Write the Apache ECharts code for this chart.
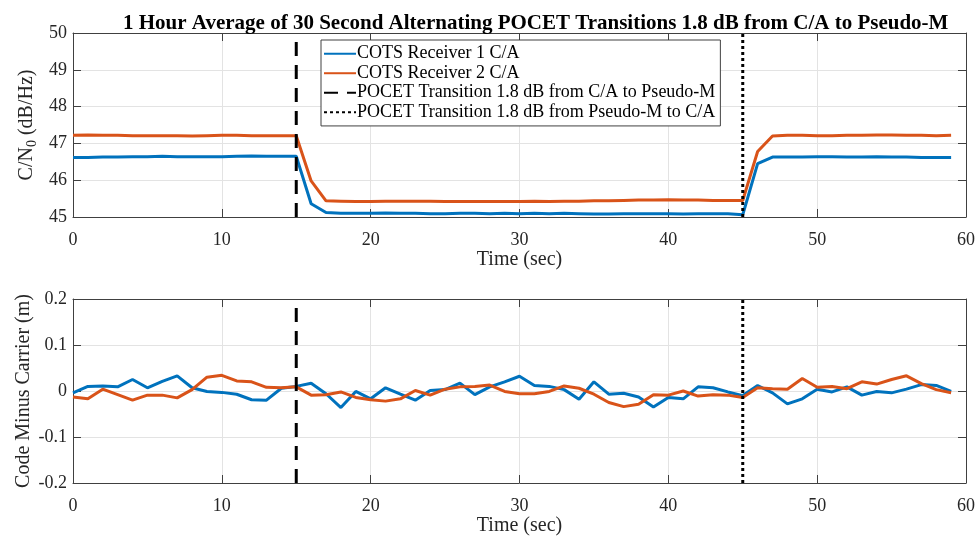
<!DOCTYPE html>
<html>

<head>
    <title>POCET Transitions</title>
    <script src="https://cdn.jsdelivr.net/npm/echarts@6.0.0/dist/echarts.min.js"></script>
    <style>
        body { margin: 0; background: #fff; }
    </style>
</head>

<body>
    <div id="myChart" style="width: 979px; height: 544px;"></div>

    <script>
        // time (sec)
        const timeSec = [0, 1, 2, 3, 4, 5, 6, 7, 8, 9, 10, 11, 12, 13, 14, 15, 16, 17, 18, 19,
            20, 21, 22, 23, 24, 25, 26, 27, 28, 29, 30, 31, 32, 33, 34, 35, 36, 37, 38, 39,
            40, 41, 42, 43, 44, 45, 46, 47, 48, 49, 50, 51, 52, 53, 54, 55, 56, 57, 58, 59];

        // C/N0 (dB/Hz)
        const cn0Rx1 = [46.62, 46.62, 46.63, 46.63, 46.64, 46.64, 46.65, 46.64, 46.64, 46.64,
            46.64, 46.65, 46.66, 46.65, 46.65, 46.65, 45.36, 45.12, 45.10, 45.10,
            45.10, 45.11, 45.10, 45.10, 45.09, 45.09, 45.10, 45.10, 45.09, 45.10,
            45.09, 45.10, 45.09, 45.10, 45.09, 45.08, 45.08, 45.09, 45.09, 45.09,
            45.09, 45.08, 45.09, 45.09, 45.09, 45.06, 46.45, 46.63, 46.63, 46.63,
            46.64, 46.64, 46.63, 46.63, 46.64, 46.63, 46.63, 46.62, 46.62, 46.62];
        const cn0Rx2 = [47.22, 47.23, 47.22, 47.22, 47.21, 47.21, 47.21, 47.21, 47.20, 47.21,
            47.22, 47.22, 47.21, 47.21, 47.21, 47.21, 45.98, 45.44, 45.43, 45.42,
            45.42, 45.43, 45.43, 45.43, 45.43, 45.42, 45.42, 45.42, 45.42, 45.42,
            45.42, 45.43, 45.42, 45.43, 45.43, 45.44, 45.44, 45.45, 45.46, 45.46,
            45.47, 45.46, 45.46, 45.45, 45.45, 45.45, 46.78, 47.20, 47.22, 47.22,
            47.21, 47.21, 47.22, 47.22, 47.23, 47.23, 47.22, 47.22, 47.21, 47.22];

        // code minus carrier (m)
        const cmcRx1 = [-0.004, 0.010, 0.011, 0.009, 0.025, 0.007, 0.021, 0.033, 0.007, -0.001,
            -0.003, -0.007, -0.019, -0.020, 0.006, 0.010, 0.017, -0.006, -0.036, -0.001,
            -0.017, 0.007, -0.007, -0.020, 0.001, 0.003, 0.017, -0.008, 0.009, 0.020,
            0.032, 0.012, 0.010, 0.003, -0.018, 0.020, -0.007, -0.005, -0.013, -0.035,
            -0.014, -0.017, 0.009, 0.007, -0.002, -0.010, 0.012, -0.004, -0.028, -0.017,
            0.004, -0.002, 0.009, -0.009, -0.001, -0.004, 0.004, 0.014, 0.012, -0.001];
        const cmcRx2 = [-0.013, -0.017, 0.004, -0.008, -0.020, -0.009, -0.009, -0.015, 0.003, 0.030,
            0.034, 0.022, 0.020, 0.008, 0.007, 0.009, -0.009, -0.008, -0.002, -0.014,
            -0.019, -0.022, -0.017, 0.001, -0.009, 0.004, 0.009, 0.010, 0.013, -0.001,
            -0.006, -0.006, -0.001, 0.011, 0.006, -0.007, -0.025, -0.034, -0.029, -0.008,
            -0.009, 0.000, -0.011, -0.008, -0.009, -0.014, 0.007, 0.005, 0.004, 0.027,
            0.008, 0.010, 0.005, 0.020, 0.015, 0.025, 0.033, 0.016, 0.003, -0.004];

        // transition times (sec)
        const transCaToM = 15;
        const transMToCa = 45;

        const names = ['COTS Receiver 1 C/A', 'COTS Receiver 2 C/A',
            'POCET Transition 1.8 dB from C/A to Pseudo-M',
            'POCET Transition 1.8 dB from Pseudo-M to C/A'];

        const font = 'Liberation Serif';
        const axisColor = '#404040';
        const blue = '#0072BD';
        const orange = '#D95319';

        const myChart = echarts.init(document.getElementById('myChart'));

        const pairs = (ys) => timeSec.map((t, i) => [t, ys[i]]);

        function xAxes(gridIndex) {
            const base = {
                type: 'value', gridIndex: gridIndex, min: 0, max: 60, interval: 10,
                axisLine: { onZero: false, lineStyle: { color: axisColor, width: 1 } },
                axisTick: { inside: true, length: 8, lineStyle: { color: axisColor } },
                splitLine: { show: true, lineStyle: { color: '#e3e3e3', width: 1 } }
            };
            return [
                Object.assign({}, base, {
                    position: 'bottom',
                    axisLabel: { fontFamily: font, fontSize: 18, color: '#262626', margin: 10 },
                    name: 'Time (sec)', nameLocation: 'middle', nameGap: 27, nameMoveOverlap: false,
                    nameTextStyle: { fontFamily: font, fontSize: 20, color: '#262626' }
                }),
                Object.assign({}, base, {
                    position: 'top', axisLabel: { show: false }, splitLine: { show: false }
                })
            ];
        }

        function yAxes(gridIndex, min, max, interval, name, nameGap, fmt) {
            const base = {
                type: 'value', gridIndex: gridIndex, min: min, max: max, interval: interval,
                axisLine: { show: true, onZero: false, lineStyle: { color: axisColor, width: 1 } },
                axisTick: { show: true, inside: true, length: 8, lineStyle: { color: axisColor } },
                splitLine: { show: true, lineStyle: { color: '#e3e3e3', width: 1 } }
            };
            return [
                Object.assign({}, base, {
                    position: 'left',
                    axisLabel: { fontFamily: font, fontSize: 18, color: '#262626', margin: 6, formatter: fmt },
                    name: name, nameLocation: 'middle', nameGap: nameGap, nameMoveOverlap: false,
                    nameTextStyle: {
                        fontFamily: font, fontSize: 20, color: '#262626',
                        rich: {
                            a: { fontFamily: font, fontSize: 20, color: '#262626' },
                            sub: { fontFamily: font, fontSize: 14, color: '#262626', padding: [12, 0, 0, 0] }
                        }
                    }
                }),
                Object.assign({}, base, {
                    position: 'right', axisLabel: { show: false }, splitLine: { show: false }
                })
            ];
        }

        function vline(name, x, yAxisIndex, xAxisIndex, ymin, ymax, type) {
            return {
                name: name, type: 'line', xAxisIndex: xAxisIndex, yAxisIndex: yAxisIndex,
                data: [[x, ymin], [x, ymax]], symbol: 'none', silent: true, z: 3,
                lineStyle: { color: '#000', width: 3, type: type },
                itemStyle: { color: '#000' }
            };
        }

        const option = {
            animation: false,
            title: {
                text: '1 Hour Average of 30 Second Alternating POCET Transitions 1.8 dB from C/A to Pseudo-M',
                left: 118, top: 2,
                textStyle: { fontFamily: font, fontSize: 21, fontWeight: 'bold', color: '#000' }
            },
            legend: {
                orient: 'vertical', left: 321, top: 40,
                data: names,
                backgroundColor: '#fff', borderColor: axisColor, borderWidth: 1,
                padding: [0, 5, 0, 2], itemGap: -8, itemWidth: 32, itemHeight: 12,
                itemStyle: { opacity: 0 },
                textStyle: { fontFamily: font, fontSize: 18, color: '#000', padding: [0, 0, 0, -4] }
            },
            grid: [
                { left: 73, right: 13, top: 33, height: 184, outerBoundsMode: 'none' },
                { left: 73, right: 13, top: 299, height: 184, outerBoundsMode: 'none' }
            ],
            xAxis: xAxes(0).concat(xAxes(1)),
            yAxis: yAxes(0, 45, 50, 1, '{a|C/N}{sub|0}{a| (dB/Hz)}', 30, null)
                .concat(yAxes(1, -0.2, 0.2, 0.1, 'Code Minus Carrier (m)', 34,
                    v => (Math.abs(v) < 1e-9 ? '0' : v.toFixed(1)))),
            series: [
                { name: names[0], type: 'line', xAxisIndex: 0, yAxisIndex: 0, data: pairs(cn0Rx1), symbol: 'none', lineStyle: { color: blue, width: 3 }, itemStyle: { color: blue }, z: 2 },
                { name: names[1], type: 'line', xAxisIndex: 0, yAxisIndex: 0, data: pairs(cn0Rx2), symbol: 'none', lineStyle: { color: orange, width: 3 }, itemStyle: { color: orange }, z: 2 },
                vline(names[2], transCaToM, 0, 0, 45, 50, [14, 9]),
                vline(names[3], transMToCa, 0, 0, 45, 50, [3, 3]),
                { name: names[0], type: 'line', xAxisIndex: 2, yAxisIndex: 2, data: pairs(cmcRx1), symbol: 'none', lineStyle: { color: blue, width: 3 }, itemStyle: { color: blue }, z: 2 },
                { name: names[1], type: 'line', xAxisIndex: 2, yAxisIndex: 2, data: pairs(cmcRx2), symbol: 'none', lineStyle: { color: orange, width: 3 }, itemStyle: { color: orange }, z: 2 },
                vline(names[2], transCaToM, 2, 2, -0.2, 0.2, [14, 9]),
                vline(names[3], transMToCa, 2, 2, -0.2, 0.2, [3, 3])
            ]
        };

        myChart.setOption(option);
    </script>
</body>

</html>
